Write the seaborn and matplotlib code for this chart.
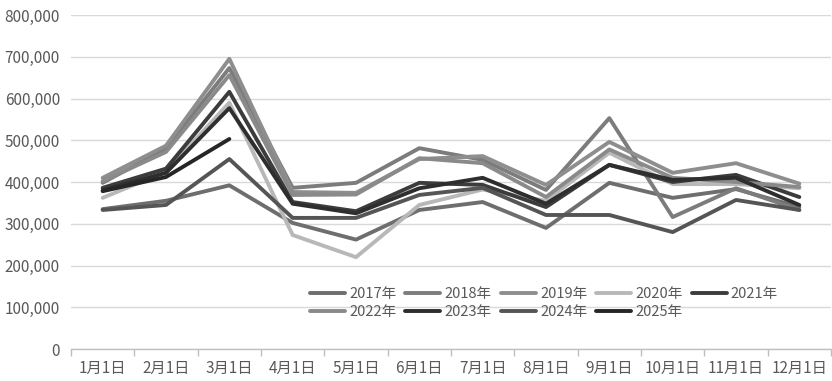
import matplotlib
matplotlib.use("Agg")
import matplotlib.pyplot as plt
import seaborn as sns
import pandas as pd
import numpy as np
from matplotlib.ticker import FuncFormatter, FixedLocator

months = ["1月1日", "2月1日", "3月1日", "4月1日", "5月1日", "6月1日",
          "7月1日", "8月1日", "9月1日", "10月1日", "11月1日", "12月1日"]

y2017 = [335000, 355000, 392000, 302000, 262000, 333000, 352000, 290000, 398000, 362000, 383000, 340000]
y2018 = [398000, 480000, 673000, 386000, 398000, 481000, 453000, 381000, 553000, 316000, 385000, 333000]
y2019 = [410000, 487000, 695000, 376000, 374000, 455000, 462000, 393000, 496000, 422000, 445000, 396000]
y2020 = [362000, 425000, 590000, 273000, 220000, 345000, 382000, 355000, 470000, 395000, 395000, 385000]
y2021 = [386000, 432000, 616000, 352000, 330000, 398000, 393000, 340000, 441000, 400000, 417000, 364000]
y2022 = [402000, 472000, 656000, 369000, 370000, 457000, 445000, 364000, 478000, 410000, 400000, 388000]
y2023 = [380000, 422000, 577000, 348000, 325000, 385000, 410000, 348000, 441000, 405000, 410000, 345000]
y2024 = [333000, 345000, 455000, 314000, 314000, 369000, 386000, 321000, 321000, 280000, 357000, 333000]
y2025 = [378000, 412000, 503000]

series = {
    "2017年": y2017, "2018年": y2018, "2019年": y2019, "2020年": y2020,
    "2021年": y2021, "2022年": y2022, "2023年": y2023, "2024年": y2024,
    "2025年": y2025,
}
colors = {
    "2017年": "#6e6e6e", "2018年": "#7c7c7c", "2019年": "#8e8e8e",
    "2020年": "#b8b8b8", "2021年": "#3c3c3c", "2022年": "#8a8a8a",
    "2023年": "#2e2e2e", "2024年": "#555555", "2025年": "#262626",
}

rows = []
for name, vals in series.items():
    for i, v in enumerate(vals):
        rows.append({"month": i, "value": v, "year": name})
df = pd.DataFrame(rows)

sns.set_theme(style="white")
plt.rcParams['font.family'] = ['Noto Sans CJK SC', 'DejaVu Sans']

fig = plt.figure(figsize=(8.32, 3.81), dpi=100)
ax = fig.add_axes([71/832, 32/381, 760/832, 334/381])

sns.lineplot(data=df, x="month", y="value", hue="year", palette=colors,
             hue_order=list(series.keys()), linewidth=2.8, ax=ax,
             legend=True, estimator=None, sort=False)

ax.set_xlim(-0.5, 11.5)
ax.set_ylim(0, 800000)
ax.set_yticks(np.arange(0, 800001, 100000))
ax.yaxis.set_major_formatter(FuncFormatter(lambda v, p: f"{int(v):,}"))
ax.grid(axis="y", color="#d9d9d9", linewidth=1)
ax.set_axisbelow(True)

ax.xaxis.set_major_locator(FixedLocator(np.arange(-0.5, 12, 1)))
ax.xaxis.set_minor_locator(FixedLocator(np.arange(0, 12, 1)))
ax.set_xticklabels([])
ax.set_xticklabels(months, minor=True)
ax.tick_params(axis="x", which="major", length=5, color="#bfbfbf", width=1, direction="out", bottom=True)
ax.tick_params(axis="x", which="minor", length=0, labelsize=11, labelcolor="#595959", pad=8)
ax.tick_params(axis="y", length=0, labelsize=11, labelcolor="#595959", pad=8)

for s in ["top", "right", "left"]:
    ax.spines[s].set_visible(False)
ax.spines["bottom"].set_color("#bfbfbf")
ax.spines["bottom"].set_linewidth(1)
ax.set_xlabel("")
ax.set_ylabel("")

handles, labels = ax.get_legend_handles_labels()
hmap = dict(zip(labels, handles))
order = ["2017年", "2022年", "2018年", "2023年", "2019年", "2024年", "2020年", "2025年", "2021年"]
leg = ax.legend([hmap[k] for k in order], order, ncol=5, frameon=False,
                loc="upper left", bbox_to_anchor=((310-71)/760, (349-287)/334),
                fontsize=10.5, handlelength=2.4, handletextpad=0.3,
                columnspacing=0.6, labelspacing=0.3, borderaxespad=0, borderpad=0)
for t in leg.get_texts():
    t.set_color("#595959")
for l in leg.get_lines():
    l.set_linewidth(2.8)

fig.savefig("out.png", dpi=100)
